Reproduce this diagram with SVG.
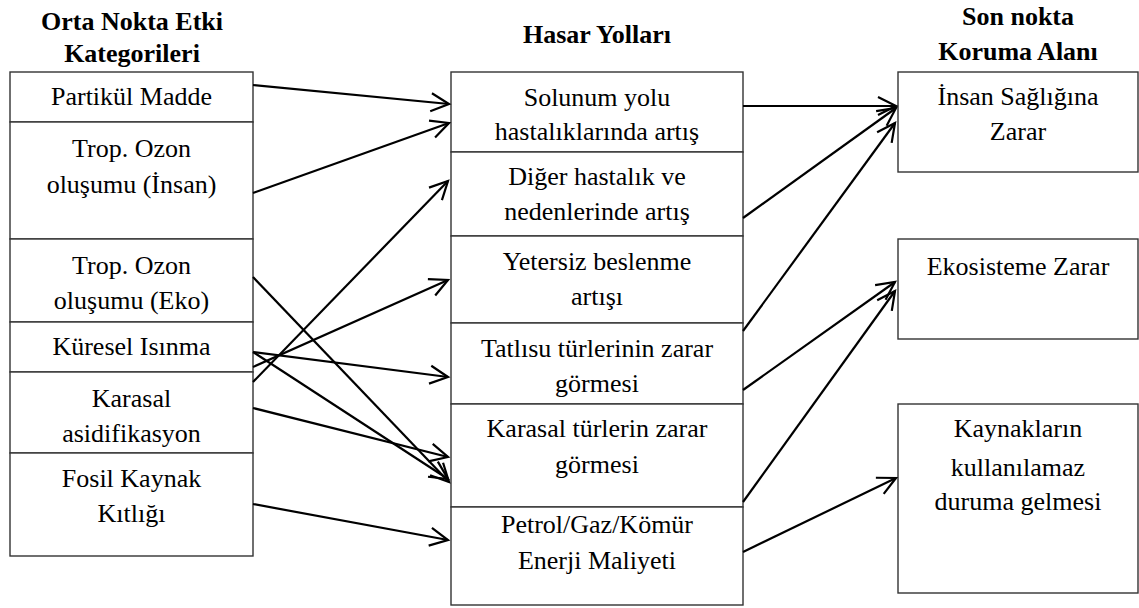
<svg xmlns="http://www.w3.org/2000/svg" width="1139" height="608" viewBox="0 0 1139 608">
<defs>
<marker id="arr" markerUnits="userSpaceOnUse" markerWidth="24" markerHeight="24" viewBox="-20 -12 24 24" refX="0" refY="0" orient="auto">
<path d="M-18,-9 L0,0 L-18,9" fill="none" stroke="#000" stroke-width="2.2"/>
</marker>
</defs>
<rect width="1139" height="608" fill="#fff"/>
<g id="titles">
<text x="132" y="30" font-family="Liberation Serif" font-size="26" font-weight="bold" text-anchor="middle">Orta Nokta Etki</text>
<text x="132" y="62" font-family="Liberation Serif" font-size="26" font-weight="bold" text-anchor="middle">Kategorileri</text>
<text x="597" y="43" font-family="Liberation Serif" font-size="26" font-weight="bold" text-anchor="middle">Hasar Yolları</text>
<text x="1018" y="25" font-family="Liberation Serif" font-size="26" font-weight="bold" text-anchor="middle">Son nokta</text>
<text x="1018" y="60" font-family="Liberation Serif" font-size="26" font-weight="bold" text-anchor="middle">Koruma Alanı</text>
</g>
<g id="n-partikul"><rect x="10" y="72" width="243" height="50" fill="#fff" stroke="#333" stroke-width="1.4"/><text x="131.5" y="105" font-family="Liberation Serif" font-size="26" text-anchor="middle">Partikül Madde</text></g>
<g id="n-trop-insan"><rect x="10" y="122" width="243" height="117" fill="#fff" stroke="#333" stroke-width="1.4"/><text x="131.5" y="157" font-family="Liberation Serif" font-size="26" text-anchor="middle">Trop. Ozon</text><text x="131.5" y="193" font-family="Liberation Serif" font-size="26" text-anchor="middle">oluşumu (İnsan)</text></g>
<g id="n-trop-eko"><rect x="10" y="239" width="243" height="83" fill="#fff" stroke="#333" stroke-width="1.4"/><text x="131.5" y="274" font-family="Liberation Serif" font-size="26" text-anchor="middle">Trop. Ozon</text><text x="131.5" y="309" font-family="Liberation Serif" font-size="26" text-anchor="middle">oluşumu (Eko)</text></g>
<g id="n-kuresel"><rect x="10" y="322" width="243" height="50" fill="#fff" stroke="#333" stroke-width="1.4"/><text x="131.5" y="355" font-family="Liberation Serif" font-size="26" text-anchor="middle">Küresel Isınma</text></g>
<g id="n-karasal-asid"><rect x="10" y="372" width="243" height="81" fill="#fff" stroke="#333" stroke-width="1.4"/><text x="131.5" y="407" font-family="Liberation Serif" font-size="26" text-anchor="middle">Karasal</text><text x="131.5" y="442" font-family="Liberation Serif" font-size="26" text-anchor="middle">asidifikasyon</text></g>
<g id="n-fosil"><rect x="10" y="453" width="243" height="103" fill="#fff" stroke="#333" stroke-width="1.4"/><text x="131.5" y="487" font-family="Liberation Serif" font-size="26" text-anchor="middle">Fosil Kaynak</text><text x="131.5" y="522" font-family="Liberation Serif" font-size="26" text-anchor="middle">Kıtlığı</text></g>
<g id="n-solunum"><rect x="451" y="72" width="292" height="80" fill="#fff" stroke="#333" stroke-width="1.4"/><text x="597" y="106" font-family="Liberation Serif" font-size="26" text-anchor="middle">Solunum yolu</text><text x="597" y="140" font-family="Liberation Serif" font-size="26" text-anchor="middle">hastalıklarında artış</text></g>
<g id="n-diger"><rect x="451" y="152" width="292" height="84" fill="#fff" stroke="#333" stroke-width="1.4"/><text x="597" y="185" font-family="Liberation Serif" font-size="26" text-anchor="middle">Diğer hastalık ve</text><text x="597" y="220" font-family="Liberation Serif" font-size="26" text-anchor="middle">nedenlerinde artış</text></g>
<g id="n-yetersiz"><rect x="451" y="236" width="292" height="87" fill="#fff" stroke="#333" stroke-width="1.4"/><text x="597" y="270" font-family="Liberation Serif" font-size="26" text-anchor="middle">Yetersiz beslenme</text><text x="597" y="305" font-family="Liberation Serif" font-size="26" text-anchor="middle">artışı</text></g>
<g id="n-tatlisu"><rect x="451" y="323" width="292" height="81" fill="#fff" stroke="#333" stroke-width="1.4"/><text x="597" y="357" font-family="Liberation Serif" font-size="26" text-anchor="middle">Tatlısu türlerinin zarar</text><text x="597" y="392" font-family="Liberation Serif" font-size="26" text-anchor="middle">görmesi</text></g>
<g id="n-karasal-tur"><rect x="451" y="404" width="292" height="103" fill="#fff" stroke="#333" stroke-width="1.4"/><text x="597" y="437" font-family="Liberation Serif" font-size="26" text-anchor="middle">Karasal türlerin zarar</text><text x="597" y="473" font-family="Liberation Serif" font-size="26" text-anchor="middle">görmesi</text></g>
<g id="n-petrol"><rect x="451" y="507" width="292" height="98" fill="#fff" stroke="#333" stroke-width="1.4"/><text x="597" y="533" font-family="Liberation Serif" font-size="26" text-anchor="middle">Petrol/Gaz/Kömür</text><text x="597" y="569" font-family="Liberation Serif" font-size="26" text-anchor="middle">Enerji Maliyeti</text></g>
<g id="n-insan"><rect x="898" y="72" width="240" height="100" fill="#fff" stroke="#333" stroke-width="1.4"/><text x="1018" y="105" font-family="Liberation Serif" font-size="26" text-anchor="middle">İnsan Sağlığına</text><text x="1018" y="140" font-family="Liberation Serif" font-size="26" text-anchor="middle">Zarar</text></g>
<g id="n-ekosistem"><rect x="898" y="239" width="240" height="100" fill="#fff" stroke="#333" stroke-width="1.4"/><text x="1018" y="275" font-family="Liberation Serif" font-size="26" text-anchor="middle">Ekosisteme Zarar</text></g>
<g id="n-kaynak"><rect x="898" y="404" width="240" height="189" fill="#fff" stroke="#333" stroke-width="1.4"/><text x="1018" y="437" font-family="Liberation Serif" font-size="26" text-anchor="middle">Kaynakların</text><text x="1018" y="476" font-family="Liberation Serif" font-size="26" text-anchor="middle">kullanılamaz</text><text x="1018" y="510" font-family="Liberation Serif" font-size="26" text-anchor="middle">duruma gelmesi</text></g>
<g id="connectors" stroke="#000" stroke-width="2.2" fill="none" marker-end="url(#arr)">
<line x1="253" y1="85" x2="449" y2="104"/>
<line x1="253" y1="193" x2="449" y2="123"/>
<line x1="253" y1="382" x2="448" y2="181"/>
<line x1="253" y1="367" x2="448" y2="280"/>
<line x1="253" y1="352" x2="448" y2="377"/>
<line x1="253" y1="352" x2="448" y2="479"/>
<line x1="253" y1="277" x2="449" y2="482"/>
<line x1="253" y1="408" x2="448" y2="457"/>
<line x1="253" y1="504" x2="448" y2="540"/>
<line x1="743" y1="106" x2="896" y2="106"/>
<line x1="743" y1="218" x2="896" y2="108"/>
<line x1="743" y1="331" x2="895" y2="123"/>
<line x1="743" y1="390" x2="895" y2="282"/>
<line x1="743" y1="502" x2="895" y2="291"/>
<line x1="743" y1="552" x2="896" y2="478"/>
</g>
</svg>
